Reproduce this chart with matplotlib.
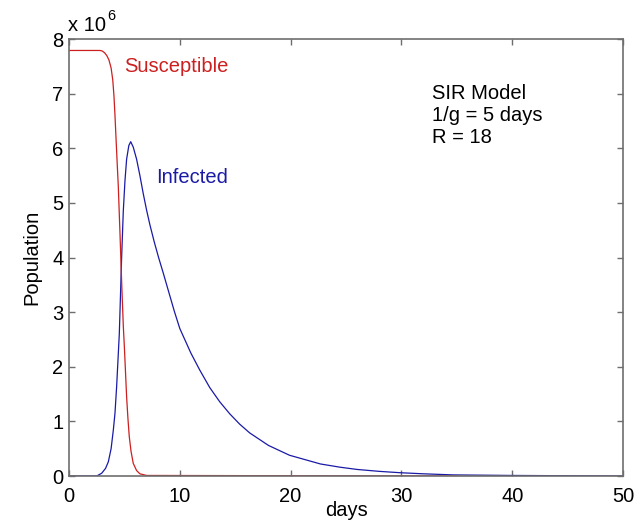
import matplotlib
matplotlib.use("Agg")
import matplotlib.pyplot as plt

plt.rcParams['font.family'] = ['Liberation Sans', 'DejaVu Sans']

# Values (population in millions)
s_days = [0, 2.8, 3.0, 3.2, 3.4, 3.6, 3.8, 3.95, 4.06, 4.15, 4.24, 4.35, 4.45,
          4.6, 4.76, 4.9, 5.0, 5.1, 5.2, 5.32, 5.44, 5.6, 5.8, 6.1, 6.4, 7.0, 35]
s_vals = [7.79, 7.79, 7.78, 7.75, 7.7, 7.62, 7.47, 7.25, 6.95, 6.6, 6.2, 5.72, 5.3,
          4.45, 3.5, 2.75, 2.35, 1.9, 1.45, 1.05, 0.72, 0.45, 0.23, 0.1, 0.04, 0.01, 0.0]

i_days = [0, 2.5, 2.95, 3.3, 3.55, 3.8, 4.0, 4.15, 4.3, 4.54, 4.75, 4.9, 5.05, 5.2,
          5.4, 5.57, 5.8, 6.1, 6.4, 6.7, 7.0, 7.3, 7.7, 8.1, 8.5, 9.0, 9.5, 10.0,
          11.0, 11.8, 12.7, 13.6, 14.5, 15.4, 16.3, 18.0, 19.9, 21.3, 22.7, 24.5, 26.0,
          28.0, 29.9, 32.0, 34.7, 40.0, 50.0]
i_vals = [0.0, 0.0, 0.05, 0.14, 0.26, 0.5, 0.84, 1.15, 1.64, 2.6, 4.0, 4.85, 5.4, 5.8,
          6.05, 6.12, 6.02, 5.8, 5.5, 5.17, 4.87, 4.6, 4.28, 3.99, 3.72, 3.37, 3.02, 2.7,
          2.25, 1.94, 1.62, 1.36, 1.14, 0.95, 0.79, 0.56, 0.38, 0.3, 0.22, 0.16, 0.12,
          0.085, 0.06, 0.04, 0.02, 0.01, 0.0]

x_ticks = [0, 10, 20, 30, 40, 50]
y_ticks = [0, 1, 2, 3, 4, 5, 6, 7, 8]
scale = 1e6

FS = 14.5
fig = plt.figure(figsize=(6.35, 5.22), dpi=100)
ax = fig.add_axes([69/635, 46/522, 554/635, 437/522])

red = '#cc1f1f'
blue = '#1a1aa6'
ax.plot(i_days, [v * scale for v in i_vals], color=blue, lw=0.9)
ax.plot(s_days, [v * scale for v in s_vals], color=red, lw=0.9)

ax.set_xlim(0, 50)
ax.set_ylim(0, 8 * scale)
ax.set_xticks(x_ticks)
ax.set_xticklabels([str(t) for t in x_ticks])
ax.set_yticks([t * scale for t in y_ticks])
ax.set_yticklabels([str(t) for t in y_ticks])

for sp in ax.spines.values():
    sp.set_color('#6e6e6e')
    sp.set_linewidth(1.2)
ax.tick_params(direction='in', top=True, right=True, length=4, width=1,
               color='#6e6e6e', labelsize=FS, labelcolor='black')
ax.tick_params(axis='x', pad=8)
ax.tick_params(axis='y', pad=4)

ax.set_xlabel('days', fontsize=FS, labelpad=-4)
ax.set_ylabel('Population', fontsize=FS, labelpad=8)

ax.text(4.95, 7.49 * scale, 'Susceptible', color=red, fontsize=FS, va='center')
ax.text(7.9, 5.46 * scale, 'Infected', color=blue, fontsize=FS, va='center')
ax.text(32.8, 7.18 * scale, 'SIR Model\n1/g = 5 days\nR = 18', color='black',
        fontsize=FS, va='top', linespacing=1.2)

fig.text(68/635, 1 - 31/522, 'x 10', fontsize=FS, va='baseline', ha='left')
fig.text(107/635, 1 - 20/522, '6', fontsize=FS * 0.72, va='baseline', ha='left')

fig.savefig('out.png', dpi=100)
